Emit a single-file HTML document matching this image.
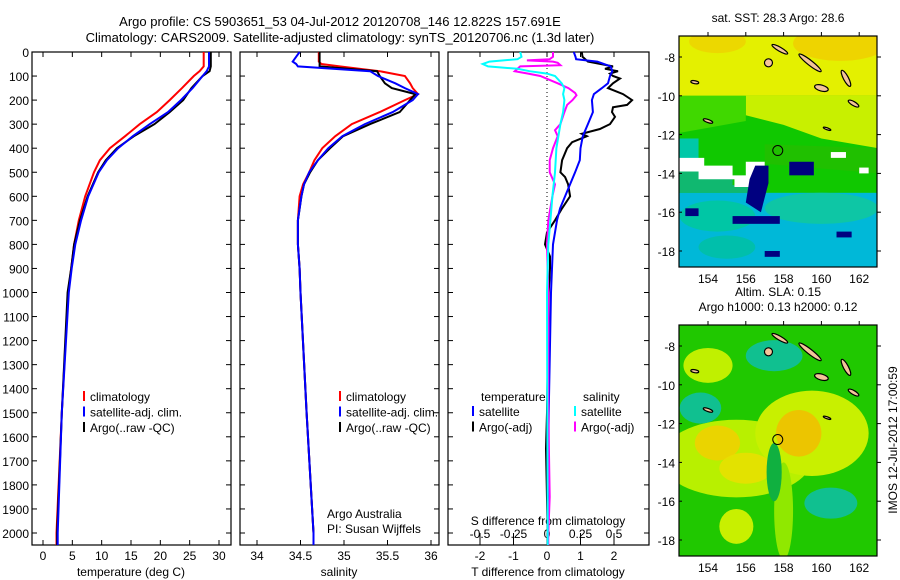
<!DOCTYPE html>
<html><head><meta charset="utf-8"><style>
body{margin:0;background:#fff;}
svg{display:block;font-family:"Liberation Sans",sans-serif;font-size:12px;}
text{fill:#000;}
</style></head><body>
<svg id="fig" width="900" height="580" viewBox="0 0 900 580" xmlns="http://www.w3.org/2000/svg">
<text x="340" y="26" text-anchor="middle" font-size="13">Argo profile: CS 5903651_53 04-Jul-2012 20120708_146 12.822S 157.691E</text>
<text x="340" y="42" text-anchor="middle" font-size="13">Climatology: CARS2009. Satellite-adjusted climatology: synTS_20120706.nc (1.3d later)</text>
<g id="p1"></g>
<g id="p2"></g>
<g id="p3"></g>
<g id="m1"></g>
<g id="m2"></g>
<text transform="translate(897,440) rotate(-90)" text-anchor="middle">IMOS 12-Jul-2012 17:00:59</text>
</svg>
<script>
const NS='http://www.w3.org/2000/svg';
// ---- data ----
const depthTicks=[0,100,200,300,400,500,600,700,800,900,1000,1100,1200,1300,1400,1500,1600,1700,1800,1900,2000];
const tTicks=[0,5,10,15,20,25,30];
const sTicks=[34,34.5,35,35.5,36];
const dTTicks=[-2,-1,0,1,2];
const dSTicks=[-0.5,-0.25,0,0.25,0.5];
const dSTickLabels=['-0.5','-0.25','0','0.25','0.5'];
const tDepth=[0,60,80,100,150,200,250,300,350,400,450,500,600,700,800,900,1000,1500,2000,2050];
const tClim=[27.4,27.4,26.7,25.7,23.7,21.6,19.4,16.5,14,11.4,9.7,8.7,7.2,6.1,5.3,4.8,4.3,3.2,2.3,2.3];
const tSat=[28.3,28.3,27.9,27.2,25.5,23.5,21.3,18.2,15.3,12.8,10.9,9.5,7.7,6.5,5.5,4.9,4.4,3.2,2.5,2.5];
const tArgo=[28.6,28.6,28.4,27.2,25.3,23.9,21.6,19,15.5,12.6,10.7,9.4,7.6,6.3,5.3,4.8,4.2,3.2,2.4,2.4];
const sDepth=[0,40,50,60,80,100,130,150,175,200,250,300,350,400,450,500,550,600,700,800,900,1000,1500,2000,2050];
const sClim=[34.71,34.71,34.74,34.95,35.41,35.70,35.76,35.79,35.85,35.70,35.41,35.09,34.90,34.75,34.66,34.60,34.53,34.49,34.47,34.47,34.49,34.50,34.57,34.65,34.65];
const sSat=[34.49,34.41,34.45,34.47,35.30,35.39,35.59,35.70,35.85,35.79,35.56,35.24,34.98,34.82,34.70,34.60,34.54,34.51,34.47,34.47,34.49,34.50,34.57,34.65,34.65];
const sArgo=[34.72,34.72,34.72,34.72,35.38,35.41,35.47,35.55,35.82,35.76,35.64,35.30,34.99,34.84,34.70,34.61,34.54,34.51,34.47,34.47,34.49,34.50,34.57,34.65,34.65];
const dDepth=[0,20,30,40,60,80,100,130,150,175,200,250,300,350,400,450,500,550,600,650,700,800,900,1000,1500,2000,2050];
const dTSat=[0.8,0.85,0.87,1.5,1.9,1.95,1.88,1.82,1.64,1.4,1.34,1.37,1.22,1.07,1.0,0.98,0.84,0.69,0.54,0.39,0.3,0.18,0.15,0.12,0.05,0.03,0.03];
const dTArgoDepth=[0,20,40,60,70,80,90,100,110,130,150,175,200,220,230,250,270,300,320,340,350,375,400,450,500,520,550,600,650,700,750,800,850,900,1000,1500,1650,2000,2050];
const dTArgo=[1.04,1.06,1.22,1.97,1.73,2.12,1.88,1.97,2.18,1.97,1.82,2.27,2.54,2.39,1.97,1.94,2.03,1.88,1.58,1.04,1.19,0.75,0.6,0.45,0.4,0.54,0.63,0.69,0.45,0.24,0,-0.06,0.09,0.09,0.05,0.0,-0.03,0.02,0.02];
const dSSatDepth=[0,20,30,40,50,60,70,80,90,100,130,150,175,200,250,300,400,500,600,700,800,1000,2000,2050];
const dSSat=[-0.2,-0.19,-0.22,-0.43,-0.48,-0.44,-0.22,-0.13,0,0.06,0.11,0.13,0.12,0.13,0.12,0.1,0.07,0.06,0.04,0.025,0.01,0.0,0.005,0.005];
const dSArgoDepth=[0,20,30,35,40,45,55,60,70,80,90,100,130,150,170,180,200,220,250,300,325,350,400,450,500,550,600,700,800,1000,1500,1850,2000,2050];
const dSArgo=[0.045,0.045,0.02,-0.15,0.045,0.08,0.1,-0.2,-0.22,-0.24,-0.14,-0.05,0.08,0.16,0.21,0.22,0.19,0.15,0.13,0.1,0.06,0.08,0.045,0.02,0.02,0.06,0.04,0.01,0.0,0.01,0.01,0.02,0.01,0.01];
const argoLon=157.691, argoLat=-12.822;

const Y0=52, YB=545, yScale=(533-52)/2000;
const yD=d=>Y0+d*yScale;
function mk(tag,attrs,parent,name,txt){
  const e=document.createElementNS(NS,tag);
  for(const k in attrs)e.setAttribute(k,attrs[k]);
  
  
  if(txt!==undefined)e.textContent=txt;
  parent.appendChild(e);return e;
}
function line(g,xs,ds,xf,col,name,w){
  const pts=xs.map((v,i)=>xf(v).toFixed(1)+','+yD(ds[i]).toFixed(1)).join(' ');
  mk('polyline',{points:pts,fill:'none',stroke:col,'stroke-width':w||2},g,name);
}
function frame(g,x0,x1,xticks,xf,labels,leftLabels,name){
  mk('rect',{x:x0,y:Y0,width:x1-x0,height:YB-Y0,fill:'none',stroke:'#000','stroke-width':1.2},g,name+'-frame');
  depthTicks.forEach(d=>{
    mk('line',{x1:x0,x2:x0+5,y1:yD(d),y2:yD(d),stroke:'#000'},g,name+'-ytick');
    mk('line',{x1:x1,x2:x1-5,y1:yD(d),y2:yD(d),stroke:'#000'},g,name+'-ytick');
    if(leftLabels) mk('text',{x:x0-3,y:yD(d)+5,'text-anchor':'end'},g,'y-tick-label',String(d));
  });
  xticks.forEach((t,i)=>{
    const x=xf(t);
    mk('line',{x1:x,x2:x,y1:YB,y2:YB-5,stroke:'#000'},g,name+'-xtick');
    mk('line',{x1:x,x2:x,y1:Y0,y2:Y0+5,stroke:'#000'},g,name+'-xtick');
    if(labels) mk('text',{x:x,y:YB+15,'text-anchor':'middle'},g,'x-tick-label',labels[i]);
  });
}
function legend(g,x,y,items,name){
  items.forEach((it,i)=>{
    mk('line',{x1:x,x2:x,y1:y+i*15.5-10,y2:y+i*15.5,stroke:it[1],'stroke-width':2},g,name+'-marker');
    mk('text',{x:x+6,y:y+i*15.5},g,name+'-entry',it[0]);
  });
}
// Panel 1
const p1=document.getElementById('p1');
const xT=t=>43+t*(219-43)/30;
frame(p1,32,231,tTicks,xT,tTicks.map(String),true,'temp');
line(p1,tClim,tDepth,xT,'#f00','temp-climatology-line');
line(p1,tArgo,tDepth,xT,'#000','temp-argo-line');
line(p1,tSat,tDepth,xT,'#00f','temp-satellite-line');
mk('text',{x:131,y:576,'text-anchor':'middle'},p1,'x-axis-title','temperature (deg C)');
legend(p1,84,401,[['climatology','#f00'],['satellite-adj. clim.','#00f'],['Argo(..raw -QC)','#000']],'temp-legend');
// Panel 2
const p2=document.getElementById('p2');
const xS=s=>257+(s-34)*(431-257)/2;
frame(p2,240,439,sTicks,xS,sTicks.map(String),false,'sal');
line(p2,sClim,sDepth,xS,'#f00','sal-climatology-line');
line(p2,sArgo,sDepth,xS,'#000','sal-argo-line');
line(p2,sSat,sDepth,xS,'#00f','sal-satellite-line');
mk('text',{x:339,y:576,'text-anchor':'middle'},p2,'x-axis-title','salinity');
legend(p2,340,401,[['climatology','#f00'],['satellite-adj. clim.','#00f'],['Argo(..raw -QC)','#000']],'sal-legend');
mk('text',{x:327,y:518},p2,'credit-line-1','Argo Australia');
mk('text',{x:327,y:533},p2,'credit-line-2','PI: Susan Wijffels');
// Panel 3
const p3=document.getElementById('p3');
const xDT=v=>547+v*33.5;
const xDS=v=>547+v*134;
frame(p3,448,649,dTTicks,xDT,dTTicks.map(String),false,'diff');
dSTicks.forEach((t,i)=>{
  const x=xDS(t);
  mk('line',{x1:x,x2:x,y1:YB-5,y2:YB-12,stroke:'#000'},p3,'s-diff-tick');
  mk('text',{x:x,y:538,'text-anchor':'middle'},p3,'s-diff-tick-label',dSTickLabels[i]);
});
mk('text',{x:548,y:525,'text-anchor':'middle'},p3,'s-diff-axis-title','S difference from climatology');
mk('line',{x1:547,x2:547,y1:Y0,y2:yD(800),stroke:'#000','stroke-dasharray':'1,3'},p3,'zero-line');
line(p3,dTArgo,dTArgoDepth,xDT,'#000','t-diff-argo-line');
line(p3,dTSat,dDepth,xDT,'#00f','t-diff-satellite-line');
line(p3,dSArgo,dSArgoDepth,xDS,'#f0f','s-diff-argo-line');
line(p3,dSSat,dSSatDepth,xDS,'#0ff','s-diff-satellite-line');
mk('text',{x:548,y:576,'text-anchor':'middle'},p3,'x-axis-title','T difference from climatology');
mk('text',{x:481,y:401},p3,'legend-heading','temperature');
mk('text',{x:583,y:401},p3,'legend-heading','salinity');
legend(p3,473,416,[['satellite','#00f'],['Argo(-adj)','#000']],'t-legend');
legend(p3,575,416,[['satellite','#0ff'],['Argo(-adj)','#f0f']],'s-legend');
// ---- maps ----
const lonTicks=[154,156,158,160,162];
const latTicks=[-8,-10,-12,-14,-16,-18];
const islands=[[157.8,-7.6,9,2,30],[159.4,-8.3,14,2.5,38],[157.2,-8.3,4,4,40],[161.3,-9.1,9,2.5,62],[160.0,-9.6,7,3,15],[161.7,-10.4,6,2,30],[153.3,-9.3,4,1.5,10],[154.0,-11.3,5,1.5,20],[160.3,-11.7,4,1,20]];
function map(id,top,titles,bg,patches){
  const g=document.getElementById(id);
  const L=679,R=877,B=top+231;
  const xL=lon=>708+(lon-154)*18.9;
  const yL=lat=>top+21+(-8-lat)*19.4;
  const cp='clip'+id;
  const cl=mk('clipPath',{id:cp},g,'map-clip');
  mk('rect',{x:L,y:top,width:R-L,height:B-top},cl,'map-clip-rect');
  const c=mk('g',{'clip-path':'url(#'+cp+')'},g,'map-image');
  mk('rect',{x:L,y:top,width:R-L,height:B-top,fill:bg},c,'map-background');
  patches.forEach(p=>{
    if(p[0]==='r') mk('rect',{x:xL(p[1]),y:yL(p[2]),width:p[3]*18.9,height:p[4]*19.4,fill:p[5]},c,'map-cell-block');
    else if(p[0]==='e') mk('ellipse',{cx:xL(p[1]),cy:yL(p[2]),rx:p[3]*18.9,ry:p[4]*19.4,fill:p[5],opacity:p[6]||1},c,'map-patch');
    else mk('polygon',{points:p[1].map(q=>xL(q[0])+','+yL(q[1])).join(' '),fill:p[2]},c,'map-patch');
  });
  islands.forEach(s=>{
    mk('ellipse',{cx:xL(s[0]),cy:yL(s[1]),rx:s[2],ry:s[3],transform:'rotate('+s[4]+' '+xL(s[0])+' '+yL(s[1])+')',fill:'#f4c49a',stroke:'#000','stroke-width':1.2},c,'island');
  });
  mk('circle',{cx:xL(argoLon),cy:yL(argoLat),r:5,fill:'none',stroke:'#000','stroke-width':1},c,'argo-location-marker');
  mk('rect',{x:L,y:top,width:R-L,height:B-top,fill:'none',stroke:'#000','stroke-width':1.2},g,'map-frame');
  lonTicks.forEach(t=>{
    const x=xL(t);
    mk('line',{x1:x,x2:x,y1:top,y2:top-4,stroke:'#000'},g,'lon-tick');
    mk('text',{x:x,y:B+16,'text-anchor':'middle'},g,'lon-tick-label',String(t));
  });
  latTicks.forEach(t=>{
    const y=yL(t);
    mk('line',{x1:R,x2:R+4,y1:y,y2:y,stroke:'#000'},g,'lat-tick');
    mk('line',{x1:L,x2:L+3,y1:y,y2:y,stroke:'#000'},g,'lat-tick');
    mk('text',{x:L-4,y:y+5,'text-anchor':'end'},g,'lat-tick-label',String(t));
  });
  titles.forEach((t,i)=>mk('text',{x:778,y:top-14-(titles.length-1-i)*15,'text-anchor':'middle'},g,'map-title',t));
}
map('m1',36,['sat. SST: 28.3 Argo: 28.6'],'#10c800',[
  ['r',152,-6.5,12,3.5,'#e4f000'],
  ['e',161,-7.3,2.5,0.9,'#f2c800',0.7],['e',154.5,-7.2,1.5,0.6,'#f2c800',0.6],
  ['p',[[156,-10],[163,-10],[163,-12.7],[160,-12.2],[158,-11.5],[156,-11]],'#c8f000'],
  ['p',[[152,-10],[156,-10],[156,-11.3],[152,-12]],'#40d800'],
  ['p',[[157,-12.5],[163,-12.7],[163,-14],[157,-13.5]],'#20c000'],
  ['r',152,-12.2,1.5,1.2,'#00c8a8'],
  ['p',[[152,-13.6],[153.8,-13.6],[153.8,-14],[155.3,-14],[155.3,-14.6],[155.8,-14.6],[155.8,-14.1],[156.5,-14.1],[156.5,-15],[152,-15]],'#10b870'],
  ['p',[[152,-13.2],[153.8,-13.2],[153.8,-13.6],[155.3,-13.6],[155.3,-14.1],[156,-14.1],[156,-13.4],[157,-13.4],[157,-13.8],[156.5,-13.8],[156.5,-14.7],[155.4,-14.7],[155.4,-14.3],[153.5,-14.3],[153.5,-13.9],[152,-13.9]],'#ffffff'],
  ['r',152,-15,12,4,'#00b8d8'],
  ['e',154.5,-16.2,2,0.8,'#00c8a0',0.9],['e',160,-15.8,3,0.8,'#10c8a0',0.9],['e',155,-17.8,1.5,0.6,'#00c0a0',0.8],
  ['p',[[156.5,-13.6],[157.2,-13.6],[157.2,-14.5],[156.8,-16],[156,-15.5],[156.2,-14.3]],'#000080'],
  ['r',158.3,-13.4,1.3,0.7,'#000080'],['r',155.3,-16.2,2.5,0.4,'#000080'],
  ['r',152.8,-15.8,0.7,0.4,'#000080'],['r',160.8,-17,0.8,0.3,'#000080'],['r',157,-18,0.8,0.3,'#000080'],
  ['r',160.5,-12.9,0.8,0.3,'#ffffff'],['r',162,-13.7,0.5,0.3,'#ffffff']
]);
map('m2',325,['Altim. SLA: 0.15','Argo h1000: 0.13 h2000: 0.12'],'#20c800',[
  ['e',155.5,-13.8,4,2,'#b8f000'],['e',159.5,-12.5,3,2.2,'#c8f000'],
  ['e',154.5,-13,1.2,0.9,'#f0d000',0.9],['e',156,-14.3,1.4,0.8,'#e8e000',0.9],['e',158.8,-12.5,1.2,1.2,'#f0c000',0.9],
  ['e',154,-9,1.3,0.9,'#c0f000'],['e',155.5,-17.3,0.9,0.9,'#c8f000'],['e',158,-16.5,0.5,2.5,'#90e800'],
  ['e',160.5,-16.1,1.4,0.8,'#10c090'],['e',153.6,-11.2,1.1,0.8,'#10c090'],['e',157.5,-8.5,1.5,0.8,'#10c090'],
  ['e',157.5,-14.5,0.4,1.5,'#10b040']
]);
</script>
</body></html>
